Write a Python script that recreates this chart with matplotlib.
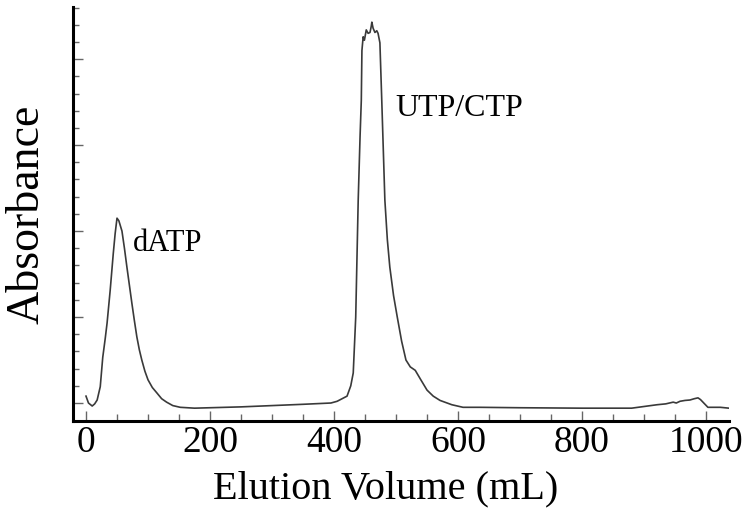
import matplotlib.pyplot as plt
import numpy as np

# elution volume (mL) and absorbance (arbitrary units)
volume = [0, 4, 10, 14, 18, 23, 27, 31, 34, 39, 44, 47, 50, 53, 58, 62, 66, 70,
          74, 78, 82, 86, 90, 95, 100, 107, 114, 122, 130, 140, 152, 175, 200,
          250, 300, 350, 380, 395, 405, 413, 421, 427, 431, 435, 439, 442, 444,
          445, 447, 449, 452, 455, 458, 460, 461, 463, 466, 469, 471, 474, 477,
          482, 486, 490, 496, 502, 509, 516, 523, 531, 540, 550, 560, 571, 590,
          608, 635, 700, 800, 880, 921, 935, 947, 952, 958, 966, 974, 981, 987,
          991, 995, 1003, 1012, 1023, 1037]
absorb = [0.08, 0.0, -0.035, -0.01, 0.035, 0.19, 0.53, 0.75, 0.93, 1.31, 1.74,
          1.97, 2.15, 2.12, 2.0, 1.8, 1.58, 1.37, 1.16, 0.96, 0.77, 0.62, 0.5,
          0.37, 0.27, 0.18, 0.12, 0.05, 0.01, -0.03, -0.05, -0.06, -0.055,
          -0.045, -0.03, -0.015, -0.005, 0.0, 0.02, 0.05, 0.08, 0.2, 0.35, 1.0,
          2.36, 3.1, 3.52, 4.1, 4.26, 4.22, 4.34, 4.3, 4.31, 4.38, 4.43, 4.36,
          4.31, 4.33, 4.3, 4.19, 3.52, 2.36, 1.9, 1.58, 1.25, 1.0, 0.72, 0.5,
          0.42, 0.38, 0.27, 0.15, 0.08, 0.03, -0.02, -0.05, -0.05, -0.055,
          -0.06, -0.06, -0.02, -0.01, 0.01, 0.0, 0.02, 0.03, 0.035, 0.05, 0.06,
          0.04, 0.01, -0.05, -0.05, -0.05, -0.06]

plt.rcParams['font.family'] = ['Liberation Serif', 'DejaVu Serif']

fig = plt.figure(figsize=(7.5, 5.08), dpi=100)
ax = fig.add_axes([0.0973, 0.1713, 0.8747, 0.8147])

ax.plot(volume, absorb, color='#3a3a3a', lw=1.2)

ax.set_xlim(-21, 1037)
ax.set_ylim(-0.209, 4.605)

ax.set_xticks(np.arange(0, 1001, 200))
ax.set_xticks(np.arange(0, 1001, 50), minor=True)
ax.set_yticks(np.arange(0, 5, 1))
ax.set_yticks(np.arange(0, 4.61, 0.2), minor=True)
ax.set_yticklabels([])

ax.tick_params(axis='both', which='both', direction='in', color='#666666',
               width=1.0)
ax.tick_params(axis='x', which='major', length=7, labelsize=27, pad=3)
ax.tick_params(axis='x', which='minor', length=5)
ax.tick_params(axis='y', which='major', length=7)
ax.tick_params(axis='y', which='minor', length=4)

for s in ['top', 'right']:
    ax.spines[s].set_visible(False)
for s in ['left', 'bottom']:
    ax.spines[s].set_linewidth(2.2)

ax.set_xlabel('Elution Volume (mL)', fontsize=29, labelpad=8)
ax.xaxis.label.set_x(0.476)
ax.set_ylabel('Absorbance', fontsize=33, labelpad=14)
ax.yaxis.label.set_y(0.5)

ax.text(75, 1.85, 'dATP', fontsize=22, va='center', ha='left')
ax.text(499, 3.42, 'UTP/CTP', fontsize=23, va='center', ha='left')

fig.savefig('out.png', dpi=100)
